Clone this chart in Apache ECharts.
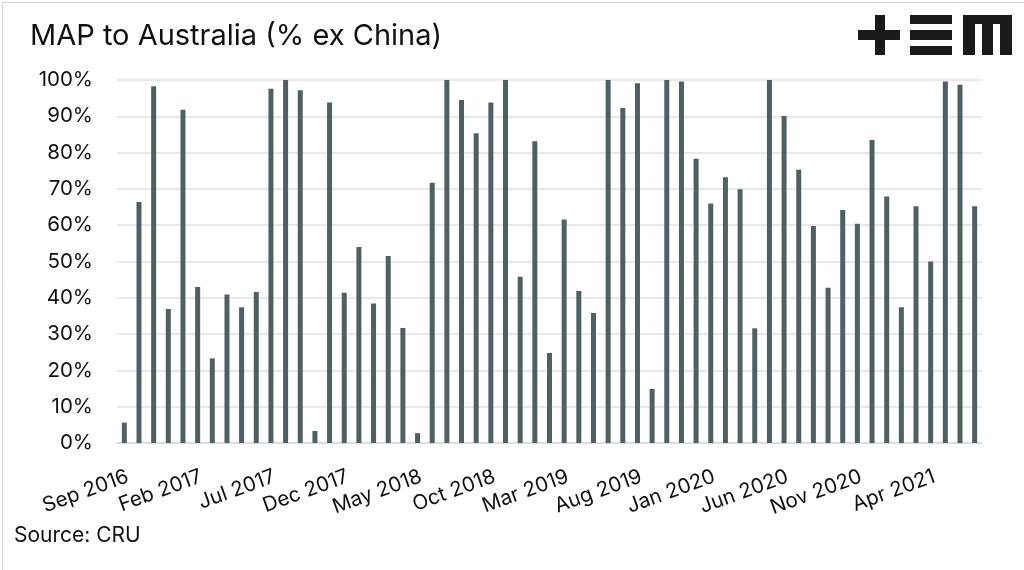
<!DOCTYPE html>
<html><head><meta charset="utf-8">
<script src="https://cdn.jsdelivr.net/npm/echarts@6/dist/echarts.min.js"></script>
<style>html,body{margin:0;padding:0;background:#fff}#c{width:1024px;height:570px}</style>
</head><body><div id="c"></div>
<script>
const months = ['Jan','Feb','Mar','Apr','May','Jun','Jul','Aug','Sep','Oct','Nov','Dec'];
const categories = [];
for (let i = 0; i < 59; i++) { const m = (8 + i) % 12; const y = 2016 + Math.floor((8 + i) / 12); categories.push(months[m] + ' ' + y); }
const values = [5.6,66.4,98.3,36.9,91.8,43.0,23.3,40.9,37.4,41.6,97.6,100,97.2,3.3,93.8,41.4,54.0,38.4,51.5,31.7,2.7,71.7,100,94.5,85.3,93.8,100,45.8,83.1,24.8,61.6,41.9,35.8,100,92.3,99.1,14.9,100,99.6,78.3,66.0,73.2,69.9,31.6,100,90.1,75.3,59.8,42.8,64.2,60.4,83.5,67.9,37.4,65.2,50.0,99.6,98.7,65.2];
const yTicks = [0,10,20,30,40,50,60,70,80,90,100];
const chart = echarts.init(document.getElementById('c'));
const dark = '#4e6062';
const font = 'Inter, Liberation Sans';
chart.setOption({
  animation:false,
  backgroundColor:'#fff',
  title:{text:'MAP to Australia (% ex China)',left:25,top:17,textStyle:{fontFamily:font,fontWeight:'normal',fontSize:29,color:'#111'}},
  grid:{left:117,right:42,top:80,bottom:127},
  xAxis:{type:'category',data:categories,boundaryGap:true,
    axisLine:{show:true,lineStyle:{color:'#d9d9d9',width:1.5}},axisTick:{show:false},
    axisLabel:{interval:4,rotate:20,color:'#111',fontSize:20.5,fontFamily:font,margin:23,align:'right',verticalAlign:'top'}},
  yAxis:{type:'value',min:0,max:100,interval:10,
    axisLine:{show:false},axisTick:{show:false},
    splitLine:{lineStyle:{color:'#e0e0e0',width:1.5}},
    axisLabel:{formatter:v=>yTicks.includes(v)?v+'%':'',color:'#111',fontSize:20.5,fontFamily:font,margin:24}},
  series:[{type:'bar',data:values,barWidth:5,itemStyle:{color:dark}}],
  graphic:[
    {type:'rect',left:0,top:0,shape:{width:1023,height:569},style:{fill:'none',stroke:'#d4d4d4',lineWidth:1},silent:true},
    {type:'text',left:14,top:525,style:{text:'Source: CRU',fontSize:21,fontFamily:font,fill:'#111'}},
    {type:'group',left:858,top:15,children:[
      {type:'rect',shape:{x:0,y:15,width:42,height:10},style:{fill:'#1a1a1a'}},
      {type:'rect',shape:{x:17,y:0,width:10,height:40},style:{fill:'#1a1a1a'}},
      {type:'rect',shape:{x:52,y:0,width:42,height:9},style:{fill:'#1a1a1a'}},
      {type:'rect',shape:{x:52,y:15,width:42,height:10},style:{fill:'#1a1a1a'}},
      {type:'rect',shape:{x:52,y:31,width:42,height:9},style:{fill:'#1a1a1a'}},
      {type:'rect',shape:{x:105,y:0,width:49,height:9},style:{fill:'#1a1a1a'}},
      {type:'rect',shape:{x:105,y:0,width:12,height:40},style:{fill:'#1a1a1a'}},
      {type:'rect',shape:{x:124,y:0,width:11,height:40},style:{fill:'#1a1a1a'}},
      {type:'rect',shape:{x:142,y:0,width:12,height:40},style:{fill:'#1a1a1a'}}
    ]}
  ]
});
</script></body></html>
